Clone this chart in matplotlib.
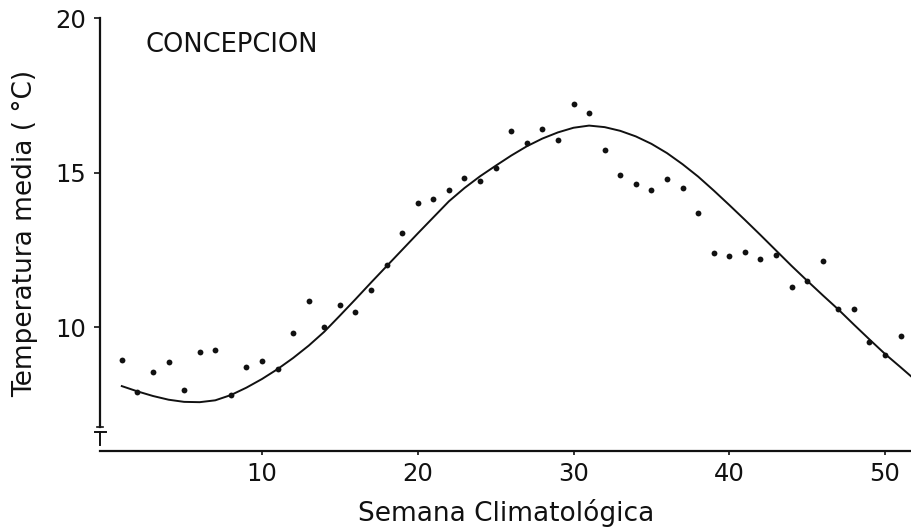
import matplotlib
matplotlib.use("Agg")
import matplotlib.pyplot as plt
from matplotlib.lines import Line2D

# Observed weekly mean temperature (dots)
weeks = list(range(1, 52))
temp_obs = [8.95, 7.91, 8.55, 8.88, 7.98, 9.18, 9.27, 7.81, 8.70, 8.89,
            8.63, 9.80, 10.85, 10.01, 10.73, 10.50, 11.19, 12.00, 13.03, 14.01,
            14.13, 14.43, 14.82, 14.72, 15.16, 16.34, 15.95, 16.42, 16.06, 17.23,
            16.94, 15.74, 14.93, 14.63, 14.42, 14.80, 14.50, 13.70, 12.40, 12.29,
            12.43, 12.20, 12.32, 11.30, 11.50, 12.15, 10.58, 10.58, 9.51, 9.09,
            9.70]

# Fitted curve
fit_weeks = list(range(1, 52)) + [51.73]
fit_temp = [8.09, 7.92, 7.77, 7.65, 7.58, 7.57, 7.63, 7.80, 8.04, 8.32,
            8.64, 9.00, 9.40, 9.85, 10.37, 10.90, 11.44, 11.97, 12.50, 13.03,
            13.55, 14.07, 14.50, 14.88, 15.22, 15.55, 15.85, 16.10, 16.30, 16.45,
            16.52, 16.47, 16.35, 16.17, 15.93, 15.63, 15.27, 14.87, 14.42, 13.95,
            13.47, 12.98, 12.48, 11.98, 11.50, 11.03, 10.57, 10.08, 9.60, 9.13,
            8.70, 8.38]

x_ticks = [10, 20, 30, 40, 50]
y_ticks = [10, 15, 20]

plt.rcParams['font.family'] = ['DejaVu Sans']

fig = plt.figure(figsize=(9.12, 5.31), dpi=100)
ax = fig.add_axes([100/912, 80/531, 812/912, 434.5/531])

ax.plot(fit_weeks, fit_temp, color='#111111', lw=1.4, clip_on=False, zorder=3)
ax.plot(weeks, temp_obs, 'o', color='#111111', ms=4.2, mec='none', clip_on=False, zorder=4)

ax.set_xlim(-0.4, 51.73)
ax.set_ylim(5.99, 20.05)

for s in ['top', 'right']:
    ax.spines[s].set_visible(False)
ax.spines['left'].set_bounds(6.76, 20)
ax.spines['left'].set_linewidth(1.6)
ax.spines['bottom'].set_linewidth(1.6)
ax.spines['left'].set_color('#111111')
ax.spines['bottom'].set_color('#111111')

ax.set_xticks(x_ticks)
ax.set_yticks(y_ticks)
ax.tick_params(axis='x', direction='out', length=3, width=1.2, labelsize=17.5, pad=5, colors='#111111')
ax.tick_params(axis='y', direction='out', length=4, width=1.2, labelsize=17.5, pad=6, colors='#111111')

# axis-break mark at the bottom of the y axis
x0 = -0.4
ax.add_line(Line2D([x0 - 0.2, x0 + 0.2], [6.76, 6.76], color='#111111', lw=1.2, clip_on=False))
ax.add_line(Line2D([x0 - 0.35, x0 + 0.4], [6.60, 6.60], color='#111111', lw=1.4, clip_on=False))
ax.add_line(Line2D([x0, x0], [6.60, 6.20], color='#111111', lw=1.4, clip_on=False))

ax.set_xlabel('Semana Climatológica', fontsize=19, labelpad=9, color='#111111')
ax.set_ylabel('Temperatura media ( °C)', fontsize=19, labelpad=12, color='#111111')

ax.text(2.5, 19.12, 'CONCEPCION', fontsize=18.5, va='center', ha='left', color='#111111')

fig.savefig('out.png', dpi=100)
